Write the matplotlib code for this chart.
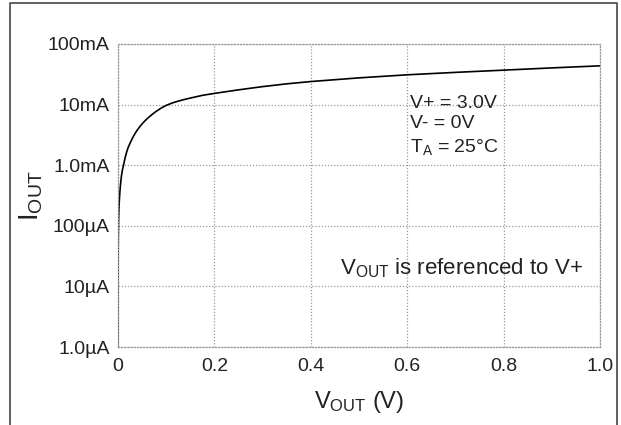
import numpy as np
import matplotlib
matplotlib.use("Agg")
import matplotlib.pyplot as plt
from matplotlib.lines import Line2D

plt.rcParams['font.family'] = ['Liberation Sans', 'DejaVu Sans']
plt.rcParams['mathtext.fontset'] = 'custom'
plt.rcParams['mathtext.rm'] = 'Liberation Sans'

# output current vs output voltage (sinking, referenced to V+)
v_out = [0.0, 0.0001, 0.0005, 0.001, 0.0015, 0.002, 0.003, 0.004, 0.005, 0.007,
         0.009, 0.012, 0.015, 0.018, 0.021, 0.025, 0.030, 0.035, 0.040, 0.045,
         0.050, 0.055, 0.060, 0.067, 0.073, 0.080, 0.090, 0.100, 0.112, 0.125,
         0.137, 0.150, 0.175, 0.200, 0.250, 0.300, 0.350, 0.400, 0.500, 0.600,
         0.700, 0.800, 0.900, 1.000]
i_out_ma = [0.001, 0.01, 0.05, 0.1, 0.15, 0.2, 0.28, 0.37, 0.46, 0.65,
            0.82, 1.05, 1.35, 1.65, 1.95, 2.3, 2.8, 3.3, 3.8, 4.3,
            4.8, 5.3, 5.8, 6.5, 7.1, 7.8, 8.8, 9.7, 10.6, 11.4,
            12.1, 12.8, 14.2, 15.3, 17.5, 19.8, 22.0, 24.0, 27.6, 31.0,
            34.0, 37.0, 40.3, 43.6]

x_ticks = [0, 0.2, 0.4, 0.6, 0.8, 1.0]
x_labels = ['0', '0.2', '0.4', '0.6', '0.8', '1.0']
y_ticks = [1e-6, 1e-5, 1e-4, 1e-3, 1e-2, 1e-1]
y_labels = ['1.0µA', '10µA', '100µA', '1.0mA', '10mA', '100mA']

i_out = np.array(i_out_ma) * 1e-3
txt = '#222222'

fig = plt.figure(figsize=(6.21, 4.25), dpi=100)
ax = fig.add_axes([0.190, 0.1835, 0.776, 0.713])

ax.plot(v_out, i_out, color='black', lw=1.2)
ax.set_yscale('log')
ax.set_xlim(0, 1.0)
ax.set_ylim(1e-6, 1e-1)
ax.set_xticks(x_ticks)
ax.set_xticklabels(x_labels)
ax.set_yticks(y_ticks)
ax.set_yticklabels(y_labels)
ax.yaxis.set_minor_locator(matplotlib.ticker.NullLocator())
ax.tick_params(length=0, labelsize=14, colors=txt)
ax.tick_params(axis='y', pad=6)
ax.tick_params(axis='x', pad=8)
ax.grid(True, color='#999999', linestyle=(0, (1, 1.5)), lw=0.9)
for s in ax.spines.values():
    s.set_color('#999999')
    s.set_linestyle((0, (1, 1.5)))
    s.set_linewidth(0.9)

ax.set_xlabel(r'$\mathregular{V_{OUT}}$ (V)', fontsize=17, color=txt, labelpad=10)
ax.set_ylabel(r'$\mathregular{I_{OUT}}$', fontsize=20, color=txt, labelpad=2)

ax.text(0.606, 0.805, 'V+ = 3.0V', transform=ax.transAxes, fontsize=14,
        color=txt, va='center', ha='left')
ax.text(0.606, 0.739, 'V- = 0V', transform=ax.transAxes, fontsize=14,
        color=txt, va='center', ha='left')
ax.text(0.606, 0.660, r'$\mathregular{T_A}$ = 25°C', transform=ax.transAxes,
        fontsize=14, color=txt, va='center', ha='left')
ax.text(0.461, 0.261, r'$\mathregular{V_{OUT}}$ is referenced to V+',
        transform=ax.transAxes, fontsize=16, color=txt, va='center', ha='left')

# open-bottom frame around the figure
fx = [10 / 621, 10 / 621, 617 / 621, 617 / 621]
fy = [0.0, 1 - 3 / 425, 1 - 3 / 425, 0.0]
fig.add_artist(Line2D(fx, fy, transform=fig.transFigure, color='#555555', lw=1.3))

fig.savefig('out.png', dpi=100)
